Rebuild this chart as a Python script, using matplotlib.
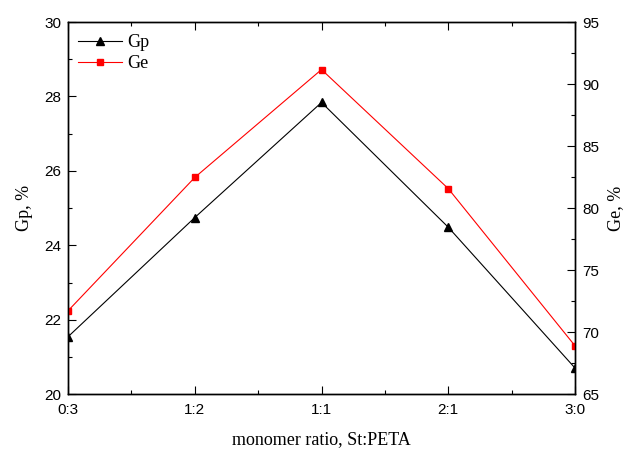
import matplotlib
matplotlib.use("Agg")
import matplotlib.pyplot as plt
from matplotlib.ticker import MultipleLocator

ratios = ["0:3", "1:2", "1:1", "2:1", "3:0"]
gp = [21.55, 24.75, 27.84, 24.49, 20.71]
ge = [71.74, 82.48, 91.17, 81.58, 68.92]

serif = "Liberation Serif"
sans = "Liberation Sans"

fig = plt.figure(figsize=(6.27, 4.49), dpi=100)
ax = fig.add_axes([0.1085, 0.1214, 0.8086, 0.8296])
ax2 = ax.twinx()

x = list(range(len(ratios)))
l1, = ax.plot(x, gp, color="black", lw=0.8, marker="^", ms=6, label="Gp")
l2, = ax2.plot(x, ge, color="red", lw=0.8, marker="s", ms=5, label="Ge")

ax.set_xlim(0, 4)
ax.set_ylim(20, 30)
ax2.set_ylim(65, 95)
ax.set_xticks(x)
ax.set_xticklabels(ratios)
ax.xaxis.set_minor_locator(MultipleLocator(0.5))
ax.yaxis.set_major_locator(MultipleLocator(2))
ax.yaxis.set_minor_locator(MultipleLocator(1))
ax2.yaxis.set_major_locator(MultipleLocator(5))
ax2.yaxis.set_minor_locator(MultipleLocator(2.5))

ax.tick_params(axis="x", which="both", direction="in", top=True, pad=6)
ax.tick_params(axis="y", which="both", direction="in", right=False, pad=5)
ax.tick_params(which="major", length=5.5, width=0.8, labelsize=11)
ax.tick_params(which="minor", length=3, width=0.8)
ax2.tick_params(which="both", direction="in", width=0.8, pad=5)
ax2.tick_params(which="major", length=5.5, labelsize=11)
ax2.tick_params(which="minor", length=3)

for lab in ax.get_xticklabels() + ax.get_yticklabels() + ax2.get_yticklabels():
    lab.set_fontfamily(sans)

ax.set_xlabel("monomer ratio, St:PETA", fontfamily=serif, fontsize=13, labelpad=10)
ax.set_ylabel("Gp, %", fontfamily=serif, fontsize=13, labelpad=8)
ax2.set_ylabel("Ge, %", fontfamily=serif, fontsize=13, labelpad=6)

for a in (ax, ax2):
    for s in a.spines.values():
        s.set_linewidth(1.0)

ax.legend([l1, l2], ["Gp", "Ge"], loc="upper left", frameon=False,
          bbox_to_anchor=(0.02, 0.968), borderaxespad=0, borderpad=0,
          prop={"family": serif, "size": 13}, handlelength=2.4,
          handletextpad=0.3, labelspacing=0.25)

fig.savefig("out.png", dpi=100)
